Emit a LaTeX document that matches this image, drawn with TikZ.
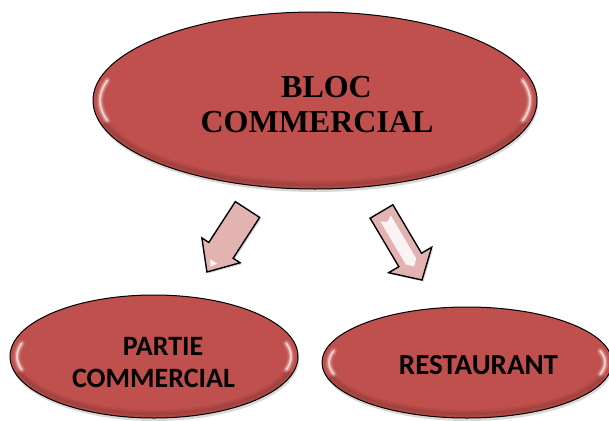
\documentclass[tikz,border=0pt]{standalone}
\usepackage{fontspec}
\setmainfont{Liberation Serif}
\newfontfamily\calib{Carlito}
\usetikzlibrary{shapes.geometric,shadows}
\definecolor{ellred}{HTML}{C0504D}
\definecolor{arrpink}{HTML}{E3B3B2}
\newcommand\glossstroke[4]{% angle from, angle to, rx, ry  (style via \pgfkeysvalueof not needed)
  (#1:#3pt and #4pt) arc[start angle=#1,end angle=#2,x radius=#3pt,y radius=#4pt]}
\newcommand\glossyrim[4]{%
  \pgfmathsetmacro\gra{#3-7}\pgfmathsetmacro\grb{#4-11}%
  \pgfmathsetmacro\grc{#3-4}\pgfmathsetmacro\grd{#4-4}%
  \begin{scope}[shift={(#1,#2)}]
    \foreach \lw/\op in {9/.04,6/.05,3/.06}{
      \draw[black,opacity=\op,line width=\lw pt] (195:\grc pt and \grd pt) arc[start angle=195,end angle=345,x radius=\grc pt,y radius=\grd pt];}
    \foreach \lw/\op in {7/.12,4.5/.2,2.5/.35,1.2/.5}{
      \draw[white,opacity=\op,line width=\lw pt,line cap=round] (165:\gra pt and \grb pt) arc[start angle=165,end angle=195,x radius=\gra pt,y radius=\grb pt];
      \draw[white,opacity=\op,line width=\lw pt,line cap=round] (-15:\gra pt and \grb pt) arc[start angle=-15,end angle=15,x radius=\gra pt,y radius=\grb pt];}
  \end{scope}}
\newcommand\fatarrow[4]{% length, shaft width, head width, head length
  \draw[blockarrow] (0,{-#2/2}) -- ({#1-#4},{-#2/2}) -- ({#1-#4},{-#3/2}) -- (#1,0) -- ({#1-#4},{#3/2}) -- ({#1-#4},{#2/2}) -- (0,{#2/2}) -- cycle;}
\begin{document}
\begin{tikzpicture}[x=1pt,y=-1pt,
  ell/.style={ellipse, draw=black, line width=1pt, fill=ellred, inner sep=0pt,
    drop shadow={shadow xshift=1pt, shadow yshift=-3pt, opacity=0.3}},
  bigtxt/.style={font=\bfseries\fontsize{32}{35}\selectfont, align=center, inner sep=0pt},
  smalltxt/.style={font=\calib\bfseries\fontsize{28}{32}\selectfont, align=center, inner sep=0pt},
  blockarrow/.style={draw=black, line width=1.4pt, line join=miter, fill=arrpink,
    drop shadow={shadow xshift=1.5pt, shadow yshift=-1.5pt, opacity=0.3}}]
\useasboundingbox (0,0) rectangle (609,420);
% ellipses
\node[ell, minimum width=444pt, minimum height=177pt] (bloc) at (315,100.5) {};
\glossyrim{315}{100.5}{222}{88.5}
\node[ell, minimum width=288pt, minimum height=123pt] (partie) at (154,356.5) {};
\glossyrim{154}{356.5}{144}{61.5}
\node[ell, minimum width=290pt, minimum height=111pt] (resto) at (467,362.5) {};
\glossyrim{467}{362.5}{145}{55.5}
% texts
\node[bigtxt] (bloctxt) at (317,104.5) {\hspace*{19pt}BLOC\\COMMERCIAL};
\node[smalltxt] (partietxt) at (153.5,362.5) {\hspace*{19pt}PARTIE\\COMMERCIAL};
\node[smalltxt, font=\calib\bfseries\fontsize{29}{32}\selectfont] (restotxt) at (478.5,365.5) {RESTAURANT};
% block arrows
\begin{scope}[shift={(247.5,209.5)}, rotate=-123]
  \fatarrow{74.5}{29}{45.6}{25.8}
  \fill[white,opacity=.9] (62,-4) -- (68,0) -- (62,4) -- cycle;
\end{scope}
\begin{scope}[shift={(381.5,211.5)}, rotate=-59.4]
  \fatarrow{79.6}{26.4}{50}{23.3}
  \fill[white,opacity=.85] (8,-6) -- (58,-6) -- (64,0) -- (58,6) -- (8,6) -- (12,0) -- cycle;
\end{scope}
\end{tikzpicture}
\end{document}
